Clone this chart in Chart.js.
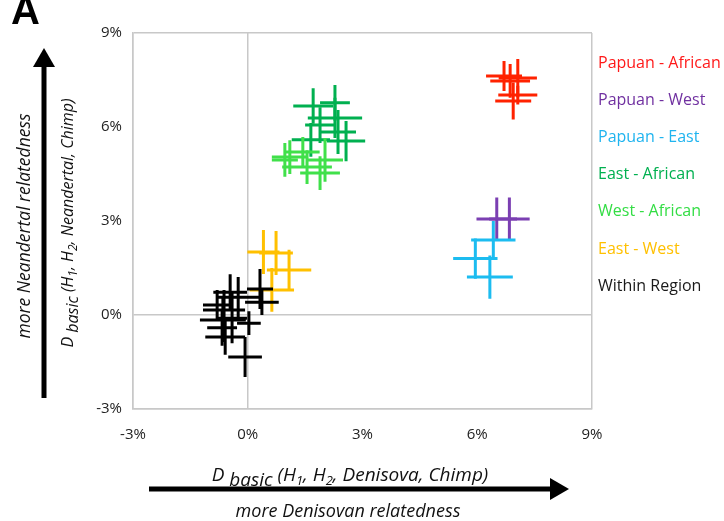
<!DOCTYPE html>
<html>
<head>
<meta charset="utf-8">
<script src="https://cdn.jsdelivr.net/npm/chart.js@4"></script>
<style>
html, body { margin: 0; padding: 0; background: #fff; }
</style>
</head>
<body>
<canvas id="myChart" width="724" height="521"></canvas>
<script>
// each point: [D Denisova %, D Neandertal %, x error, y error]
var papuanAfrican = [[6.70, 7.63, 0.47, 0.48], [7.06, 7.56, 0.50, 0.61], [6.86, 7.47, 0.52, 0.54], [7.06, 7.02, 0.51, 0.30], [6.94, 6.83, 0.47, 0.59]];
var papuanWest = [[6.51, 3.06, 0.53, 0.69], [6.84, 3.06, 0.53, 0.69]];
var papuanEast = [[6.42, 2.39, 0.58, 0.61], [5.95, 1.80, 0.58, 0.64], [6.33, 1.21, 0.60, 0.69]];
var eastAfrican = [[1.71, 6.67, 0.52, 0.57], [2.28, 6.77, 0.39, 0.57], [2.28, 6.29, 0.71, 0.64], [2.36, 5.84, 0.47, 0.70], [2.57, 5.55, 0.50, 0.64], [1.65, 5.59, 0.50, 0.54], [1.89, 6.06, 0.39, 0.57]];
var westAfrican = [[1.10, 5.04, 0.47, 0.54], [1.44, 5.20, 0.44, 0.48], [1.55, 4.72, 0.65, 0.54], [1.89, 4.53, 0.52, 0.54], [2.02, 4.95, 0.47, 0.70], [0.97, 4.95, 0.34, 0.54]];
var eastWest = [[0.41, 2.01, 0.42, 0.70], [0.74, 1.98, 0.44, 0.70], [1.08, 1.44, 0.58, 0.64], [0.63, 0.80, 0.58, 0.70]];
var withinRegion = [[0.32, 0.83, 0.34, 0.64], [-0.46, 0.73, 0.44, 0.57], [-0.25, 0.57, 0.55, 0.64], [0.37, 0.41, 0.44, 0.41], [-0.62, 0.16, 0.55, 0.64], [-0.65, -0.16, 0.60, 0.70], [0.03, -0.26, 0.31, 0.38], [-0.67, -0.41, 0.39, 0.57], [-0.59, -0.70, 0.52, 0.57], [-0.07, -1.34, 0.44, 0.64], [-0.80, 0.32, 0.37, 0.48], [-0.41, -0.10, 0.39, 0.80]];

var groupNames = ['Papuan - African', 'Papuan - West', 'Papuan - East', 'East - African', 'West - African', 'East - West', 'Within Region'];
var groupData = [papuanAfrican, papuanWest, papuanEast, eastAfrican, westAfrican, eastWest, withinRegion];
var groupColors = ['#ff2200', '#7b3fb2', '#1cbcf0', '#00b050', '#40e04a', '#ffc000', '#000000'];
var labelColors = ['#ff1a1a', '#7030a0', '#1fb4ef', '#00b050', '#33dd44', '#ffc000', '#1a1a1a'];
var tickValues = [-3, 0, 3, 6, 9];

var datasets = [];
for (var i = 0; i < groupData.length; i++) {
  datasets.push({
    label: groupNames[i],
    data: groupData[i].map(function (p) { return { x: p[0], y: p[1], ex: p[2], ey: p[3] }; }),
    borderColor: groupColors[i],
    backgroundColor: groupColors[i],
    pointRadius: 0,
    showLine: false
  });
}

var FONT = '"Open Sans", "Noto Sans", sans-serif';

// crosses = error bars in both directions
var crossPlugin = {
  id: 'crosses',
  afterDatasetsDraw: function (chart) {
    var ctx = chart.ctx;
    var xs = chart.scales.x, ys = chart.scales.y;
    ctx.save();
    ctx.lineWidth = 3;
    ctx.lineCap = 'butt';
    chart.data.datasets.forEach(function (ds) {
      ctx.strokeStyle = ds.borderColor;
      ds.data.forEach(function (p) {
        var cx = xs.getPixelForValue(p.x), cy = ys.getPixelForValue(p.y);
        ctx.beginPath();
        ctx.moveTo(xs.getPixelForValue(p.x - p.ex), cy);
        ctx.lineTo(xs.getPixelForValue(p.x + p.ex), cy);
        ctx.moveTo(cx, ys.getPixelForValue(p.y - p.ey));
        ctx.lineTo(cx, ys.getPixelForValue(p.y + p.ey));
        ctx.stroke();
      });
    });
    ctx.restore();
  }
};

function drawRich(ctx, parts, x, y, size) {
  var total = 0;
  parts.forEach(function (p) {
    ctx.font = 'italic ' + Math.round(size * (p.s || 1)) + 'px ' + FONT;
    p.w = ctx.measureText(p.t).width;
    total += p.w;
  });
  var cx = x - total / 2;
  ctx.textAlign = 'left';
  ctx.textBaseline = 'alphabetic';
  parts.forEach(function (p) {
    ctx.font = 'italic ' + Math.round(size * (p.s || 1)) + 'px ' + FONT;
    ctx.fillText(p.t, cx, y + (p.dy || 0));
    cx += p.w;
  });
}

function arrow(ctx, x1, y1, x2, y2) {
  var a = Math.atan2(y2 - y1, x2 - x1);
  var hl = 19, hw = 11;
  ctx.beginPath();
  ctx.moveTo(x1, y1);
  ctx.lineTo(x2 - hl * 0.6 * Math.cos(a), y2 - hl * 0.6 * Math.sin(a));
  ctx.stroke();
  ctx.beginPath();
  ctx.moveTo(x2, y2);
  ctx.lineTo(x2 - hl * Math.cos(a) + hw * Math.sin(a), y2 - hl * Math.sin(a) - hw * Math.cos(a));
  ctx.lineTo(x2 - hl * Math.cos(a) - hw * Math.sin(a), y2 - hl * Math.sin(a) + hw * Math.cos(a));
  ctx.closePath();
  ctx.fill();
}

function titleParts(name) {
  return [
    { t: 'D' }, { t: ' basic ', dy: 5 }, { t: '(H' }, { t: '1', s: 0.72, dy: 4 },
    { t: ', H' }, { t: '2', s: 0.72, dy: 4 }, { t: ', ' + name + ', Chimp)' }
  ];
}

var annotPlugin = {
  id: 'annot',
  afterDraw: function (chart) {
    var ctx = chart.ctx;
    ctx.save();
    ctx.fillStyle = '#111';
    ctx.strokeStyle = '#000';
    ctx.lineWidth = 5;

    // x axis title + arrow
    drawRich(ctx, titleParts('Denisova'), 350, 481, 18.5);
    ctx.fillStyle = '#000';
    arrow(ctx, 149, 489, 569, 489);
    ctx.fillStyle = '#111';
    ctx.font = 'italic 18px ' + FONT;
    ctx.textAlign = 'center';
    ctx.fillText('more Denisovan relatedness', 348, 517);

    // y axis title + arrow
    ctx.save();
    ctx.rotate(-Math.PI / 2);
    drawRich(ctx, titleParts('Neandertal'), -223, 73, 16);
    ctx.font = 'italic 17.5px ' + FONT;
    ctx.textAlign = 'center';
    ctx.fillText('more Neandertal relatedness', -226, 30);
    ctx.restore();
    ctx.fillStyle = '#000';
    arrow(ctx, 44, 398, 44, 48);

    // panel letter (cut off at the top in the source figure)
    ctx.font = 'bold 40px "Liberation Sans", Arial, sans-serif';
    ctx.textAlign = 'left';
    ctx.fillText('A', 11, 24);

    // legend as coloured text
    ctx.font = '16px ' + FONT;
    ctx.textBaseline = 'middle';
    for (var i = 0; i < groupNames.length; i++) {
      ctx.fillStyle = labelColors[i];
      ctx.fillText(groupNames[i], 598, 63 + i * 37.2);
    }
    ctx.restore();
  }
};

function gridColor(c) {
  var v = c.tick ? c.tick.value : null;
  return (v === 0 || v === 9 || v === -3) ? '#c8c8c8' : 'rgba(0,0,0,0)';
}

var graficar = document.getElementById('myChart').getContext('2d');
var grafico = new Chart(graficar, {
  type: 'scatter',
  data: { datasets: datasets },
  options: {
    responsive: false,
    animation: false,
    layout: { padding: { left: 0, top: 33, right: 132, bottom: 0 } },
    plugins: { legend: { display: false }, tooltip: { enabled: false } },
    scales: {
      x: {
        type: 'linear', min: -3, max: 9,
        afterBuildTicks: function (s) { s.ticks = tickValues.map(function (v) { return { value: v }; }); },
        afterFit: function (s) { s.height = 112; },
        ticks: { callback: function (v) { return v + '%'; }, padding: 17, color: '#222', font: { family: FONT, size: 15 }, maxRotation: 0 },
        grid: { drawTicks: false, color: gridColor, lineWidth: 1.5 },
        border: { display: true, color: '#c8c8c8', width: 1.5 }
      },
      y: {
        type: 'linear', min: -3, max: 9,
        afterBuildTicks: function (s) { s.ticks = tickValues.map(function (v) { return { value: v }; }); },
        afterFit: function (s) { s.width = 133; },
        ticks: { callback: function (v) { return v + '%'; }, padding: 11, color: '#222', font: { family: FONT, size: 15 } },
        grid: { drawTicks: false, color: gridColor, lineWidth: 1.5 },
        border: { display: true, color: '#c8c8c8', width: 1.5 }
      }
    }
  },
  plugins: [crossPlugin, annotPlugin]
});
</script>
</body>
</html>
